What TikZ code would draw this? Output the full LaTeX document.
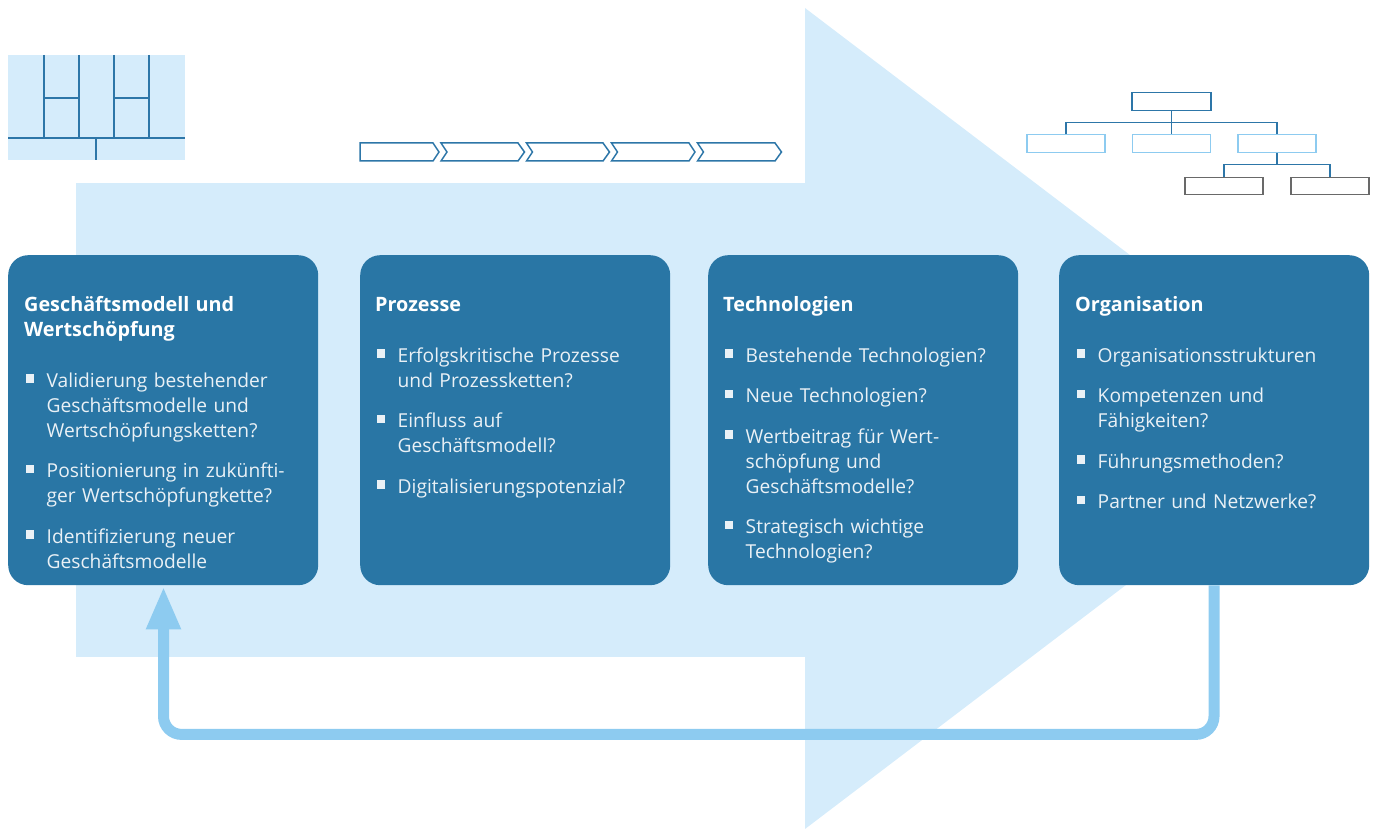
\documentclass[tikz,border=0pt]{standalone}
\usepackage{fontspec}
\setmainfont{Open Sans}
\usetikzlibrary{arrows.meta,calc}

\definecolor{bgblue}{RGB}{213,236,251}
\definecolor{boxblue}{RGB}{41,118,165}
\definecolor{lineblue}{RGB}{45,118,168}
\definecolor{loopblue}{RGB}{141,203,240}
\definecolor{orggray}{RGB}{105,105,105}
\colorlet{bodytext}{white!90!boxblue}

% one bullet point with a hanging indent
\newcommand{\bpoint}[1]{\par\vspace{15.5pt}\hangindent=22.5pt\hangafter=1\noindent
  \makebox[22.5pt][l]{\hspace{1.5pt}\rule[4.5pt]{8.5pt}{8.5pt}}#1\par}
\newcommand{\cardtitle}[1]{{\fontsize{19.8}{25}\selectfont\bfseries\color{white}#1}\par\vspace{10.5pt}}

\tikzset{
  card/.style={fill=boxblue, rounded corners=20pt, minimum width=310pt,
    minimum height=330pt, anchor=north west, inner sep=0pt},
  cardtext/.style={anchor=north west, inner sep=0pt, text width=285pt,
    text=bodytext, font=\fontsize{19.2}{25}\selectfont},
  iconline/.style={draw=lineblue, line width=2pt},
  chev/.style={draw=lineblue, line width=1.5pt, line join=miter},
  orgline/.style={draw=lineblue, line width=1.5pt},
  orgtop/.style={draw=lineblue, line width=1.6pt, minimum width=79pt, minimum height=18pt, inner sep=0pt},
  orgmid/.style={draw=loopblue, line width=1.6pt, minimum width=78pt, minimum height=18pt, inner sep=0pt},
  orglow/.style={draw=orggray, line width=1.6pt, minimum width=78pt, minimum height=17pt, inner sep=0pt},
  loopline/.style={draw=loopblue, line width=11pt, rounded corners=18pt,
    -{Triangle[length=43pt,width=32pt]}},
}

\begin{document}
\begin{tikzpicture}[x=1pt,y=-1pt]
\useasboundingbox (0,0) rectangle (1381,829);

% large background arrow
\fill[bgblue] (76,183) rectangle (806,657);
\fill[bgblue] (805,8) -- (1345,418.5) -- (805,829) -- cycle;

% business model icon
\fill[bgblue] (8,55) rectangle (185,160);
\draw[iconline] (8,138.5) -- (185,138.5);
\foreach \xx in {43.5,78.5,113.5,148.5}
  \draw[iconline] (\xx,55) -- (\xx,138.5);
\draw[iconline] (43.5,98) -- (78.5,98);
\draw[iconline] (113.5,98) -- (148.5,98);
\draw[iconline] (96,138.5) -- (96,160);

% process chain
\draw[chev] (360,143) -- (433,143) -- (439,152) -- (433,161) -- (360,161) -- cycle;
\draw[chev] (441,143) -- (518,143) -- (524.5,152) -- (518,161) -- (441,161) -- (447,152) -- cycle;
\draw[chev] (526.5,143) -- (603,143) -- (609.5,152) -- (603,161) -- (526.5,161) -- (532.5,152) -- cycle;
\draw[chev] (611.5,143) -- (689,143) -- (695,152) -- (689,161) -- (611.5,161) -- (617.5,152) -- cycle;
\draw[chev] (697.5,143) -- (775,143) -- (781.5,152) -- (775,161) -- (697.5,161) -- (703.5,152) -- cycle;

% organisation chart
\node[orgtop] (o0) at (1171.5,101.5) {};
\node[orgmid] (o1) at (1066,143.5) {};
\node[orgmid] (o2) at (1171.5,143.5) {};
\node[orgmid] (o3) at (1277,143.5) {};
\node[orglow] (o4) at (1224,186) {};
\node[orglow] (o5) at (1330,186) {};
\draw[orgline] (o0.south) -- (o2.north);
\draw[orgline] (o1.north) -- ++(0,-11) -| (o3.north);
\draw[orgline] (o3.south) -- ++(0,12) coordinate (fork);
\draw[orgline] (o4.north) -- ++(0,-12) -| (o5.north);

% cards
\node[card] (b1) at (8,255) {};
\node[card] (b2) at (360,255) {};
\node[card] (b3) at (708,255) {};
\node[card] (b4) at (1059,255) {};

\node[cardtext] (t1) at (24,293.5) {\raggedright\strut\cardtitle{Geschäftsmodell und\newline Wertschöpfung}%
  \bpoint{Validierung bestehender\newline Geschäftsmodelle und\newline Wertschöpfungsketten?}%
  \bpoint{Positionierung in zukünfti-\newline ger Wertschöpfungkette?}%
  \bpoint{Identifizierung neuer\newline Geschäftsmodelle}};

\node[cardtext] (t2) at (375,293.5) {\raggedright\strut\cardtitle{Prozesse}%
  \bpoint{Erfolgskritische Prozesse\newline und Prozessketten?}%
  \bpoint{Einfluss auf\newline Geschäftsmodell?}%
  \bpoint{Digitalisierungspotenzial?}};

\node[cardtext] (t3) at (723,293.5) {\raggedright\strut\cardtitle{Technologien}%
  \bpoint{Bestehende Technologien?}%
  \bpoint{Neue Technologien?}%
  \bpoint{Wertbeitrag für Wert-\newline schöpfung und\newline Geschäftsmodelle?}%
  \bpoint{Strategisch wichtige\newline Technologien?}};

\node[cardtext] (t4) at (1075,293.5) {\raggedright\strut\cardtitle{Organisation}%
  \bpoint{Organisationsstrukturen}%
  \bpoint{Kompetenzen und\newline Fähigkeiten?}%
  \bpoint{Führungsmethoden?}%
  \bpoint{Partner und Netzwerke?}};

% feedback loop from organisation back to the business model
\draw[loopline] ($(b4.south west)+(155,0)$) -- ++(0,149) -| ($(b1.south west)+(155.5,1)$);
\end{tikzpicture}
\end{document}
